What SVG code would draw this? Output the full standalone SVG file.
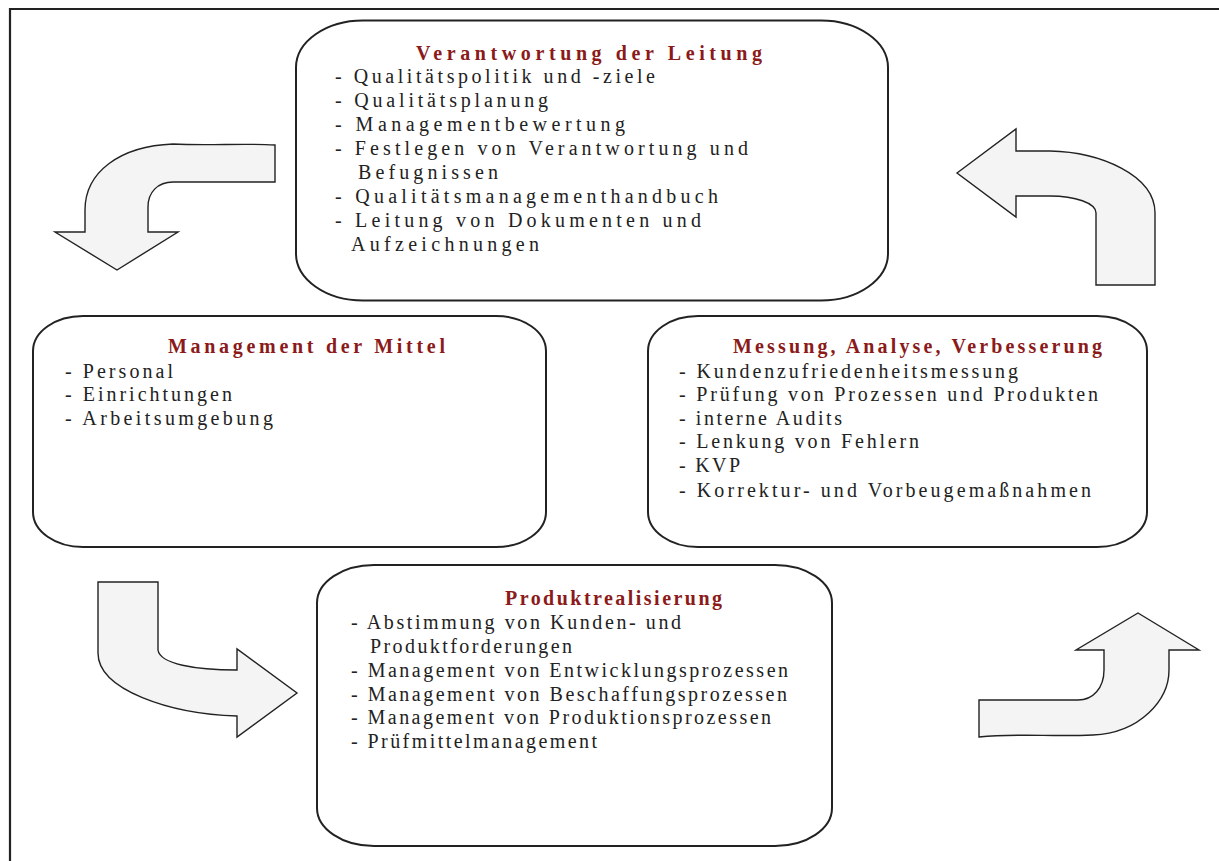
<svg xmlns="http://www.w3.org/2000/svg" width="1219" height="861" viewBox="0 0 1219 861">
<style>
.box{fill:#fff;stroke:#222;stroke-width:2}
.arrow{fill:#f4f4f4;stroke:#222;stroke-width:1.4;stroke-linejoin:miter}
.title{font-family:"Liberation Serif","Times New Roman",serif;font-size:20px;font-weight:bold;fill:#8b1a1a}
.body{font-family:"Liberation Serif","Times New Roman",serif;font-size:20px;fill:#222}
</style>
<rect width="1219" height="861" fill="#fff"/>
<path d="M 10 861 V 9 H 1219" fill="none" stroke="#222" stroke-width="2.2"/>

<g id="connectors">
  <path class="arrow" d="M 275 145 C 240 143 210 146 173 144 C 120 146 85 172 85 210 L 85 232 L 55 232 L 117 270 L 178 232 L 148 232 L 148 207 C 148 192 158 182 173 182 L 275 182 Z"/>
  <path class="arrow" d="M 957 173 L 1016 129 L 1016 151 L 1050 151 C 1100 152 1155 175 1155 213 L 1155 285 L 1096 285 L 1096 213 C 1096 203 1075 196 1050 196 L 1016 196 L 1016 217 Z"/>
  <path class="arrow" d="M 98 582 L 158 582 L 158 650 C 160 664 195 670 237 670 L 237 649 L 297 693 L 237 737 L 237 716 C 170 714 98 690 98 653 Z"/>
  <path class="arrow" d="M 1138 613 L 1199 650 L 1169 650 L 1169 670 C 1169 700 1140 733 1093 735 C 1050 737 1020 733 979 737 L 979 700 L 1078 700 C 1093 700 1104 688 1104 670 L 1104 650 L 1076 650 Z"/>
</g>

<g id="node-leitung">
  <rect class="box" x="296" y="20.5" width="592" height="280" rx="67" ry="47"/>
  <text class="title" x="416" y="60" textLength="346" lengthAdjust="spacing">Verantwortung der Leitung</text>
  <text class="body" x="335" y="83" textLength="320" lengthAdjust="spacing">- Qualitätspolitik und -ziele</text>
  <text class="body" x="335" y="107" textLength="213" lengthAdjust="spacing">- Qualitätsplanung</text>
  <text class="body" x="335" y="131" textLength="290" lengthAdjust="spacing">- Managementbewertung</text>
  <text class="body" x="335" y="155" textLength="413" lengthAdjust="spacing">- Festlegen von Verantwortung und</text>
  <text class="body" x="358" y="179" textLength="140" lengthAdjust="spacing">Befugnissen</text>
  <text class="body" x="335" y="203" textLength="383" lengthAdjust="spacing">- Qualitätsmanagementhandbuch</text>
  <text class="body" x="335" y="227" textLength="366" lengthAdjust="spacing">- Leitung von Dokumenten und</text>
  <text class="body" x="351" y="251" textLength="188" lengthAdjust="spacing">Aufzeichnungen</text>
</g>

<g id="node-mittel">
  <rect class="box" x="33" y="316" width="513" height="231" rx="50" ry="35"/>
  <text class="title" x="168" y="353" textLength="277" lengthAdjust="spacing">Management der Mittel</text>
  <text class="body" x="65" y="378" textLength="108" lengthAdjust="spacing">- Personal</text>
  <text class="body" x="65" y="401" textLength="167" lengthAdjust="spacing">- Einrichtungen</text>
  <text class="body" x="65" y="425" textLength="208" lengthAdjust="spacing">- Arbeitsumgebung</text>
</g>

<g id="node-messung">
  <rect class="box" x="648" y="316" width="499" height="231" rx="50" ry="35"/>
  <text class="title" x="733" y="353" textLength="369" lengthAdjust="spacing">Messung, Analyse, Verbesserung</text>
  <text class="body" x="679" y="378" textLength="339" lengthAdjust="spacing">- Kundenzufriedenheitsmessung</text>
  <text class="body" x="679" y="401" textLength="419" lengthAdjust="spacing">- Prüfung von Prozessen und Produkten</text>
  <text class="body" x="679" y="425" textLength="163" lengthAdjust="spacing">- interne Audits</text>
  <text class="body" x="679" y="448" textLength="240" lengthAdjust="spacing">- Lenkung von Fehlern</text>
  <text class="body" x="679" y="472" textLength="61" lengthAdjust="spacing">- KVP</text>
  <text class="body" x="679" y="497" textLength="412" lengthAdjust="spacing">- Korrektur- und Vorbeugemaßnahmen</text>
</g>

<g id="node-produkt">
  <rect class="box" x="317" y="565" width="515" height="281" rx="57" ry="38"/>
  <text class="title" x="505" y="605" textLength="217" lengthAdjust="spacing">Produktrealisierung</text>
  <text class="body" x="351" y="629" textLength="330" lengthAdjust="spacing">- Abstimmung von Kunden- und</text>
  <text class="body" x="370" y="653" textLength="202" lengthAdjust="spacing">Produktforderungen</text>
  <text class="body" x="351" y="677" textLength="437" lengthAdjust="spacing">- Management von Entwicklungsprozessen</text>
  <text class="body" x="351" y="701" textLength="436" lengthAdjust="spacing">- Management von Beschaffungsprozessen</text>
  <text class="body" x="351" y="724" textLength="420" lengthAdjust="spacing">- Management von Produktionsprozessen</text>
  <text class="body" x="351" y="748" textLength="246" lengthAdjust="spacing">- Prüfmittelmanagement</text>
</g>
</svg>
